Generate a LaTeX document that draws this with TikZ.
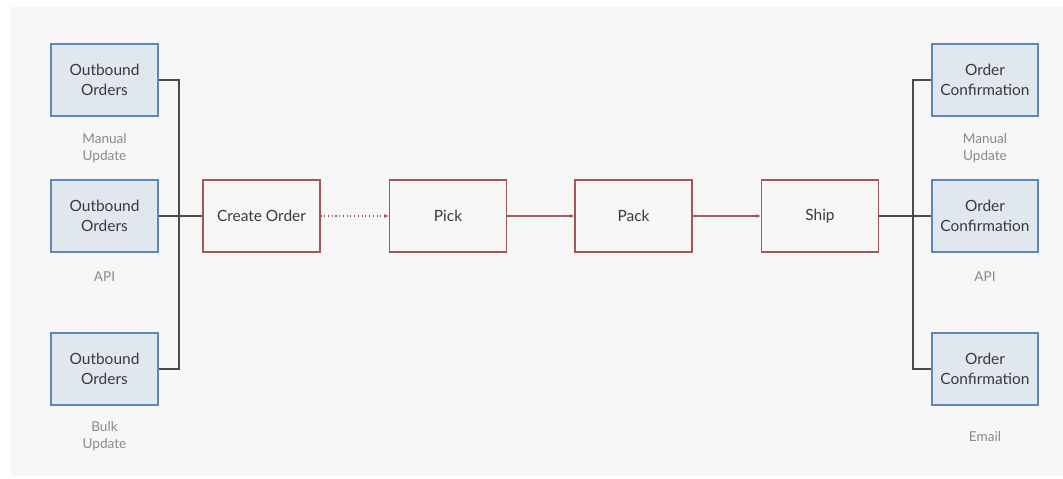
\documentclass[tikz,border=0pt]{standalone}
\usepackage{fontspec}
\setmainfont{Lato}
\usetikzlibrary{arrows.meta}
\definecolor{bg}{HTML}{F6F6F6}
\definecolor{srcfill}{HTML}{E1E7EF}
\definecolor{srcdraw}{HTML}{5F87B3}
\definecolor{procdraw}{HTML}{A0585B}
\definecolor{txt}{HTML}{3A3A3A}
\definecolor{lbl}{HTML}{8A8A8A}
\definecolor{conn}{HTML}{4A4A4A}
\tikzset{
  srcbox/.style={draw=srcdraw, fill=srcfill, line width=0.8pt, minimum width=80.25pt, minimum height=54pt, align=center, text=txt, font=\fontsize{11.6}{15.2}\selectfont, inner sep=1pt},
  procbox/.style={draw=procdraw, fill=bg, line width=0.8pt, minimum width=87.75pt, minimum height=54pt, align=center, text=txt, font=\fontsize{11.6}{15.2}\selectfont},
  lbltext/.style={text=lbl, align=center, font=\fontsize{10.2}{12.5}\selectfont},
  link/.style={draw=conn, line width=0.8pt},
  flow/.style={draw=procdraw, line width=0.8pt, -{Latex[length=3.5pt,width=3pt]}},
}
\begin{document}
\begin{tikzpicture}[x=0.75pt,y=-0.75pt]
\useasboundingbox (0,0) rectangle (1063,478);
\fill[white] (0,0) rectangle (1063,478);
\fill[bg] (11,7) rectangle (1063,476);
% left sources
\node[srcbox] (o1) at (104.5,80) {Outbound\\Orders};
\node[srcbox] (o2) at (104.5,216) {Outbound\\Orders};
\node[srcbox] (o3) at (104.5,369) {Outbound\\Orders};
\node[lbltext] (l1) at (104.5,148) {Manual\\Update};
\node[lbltext] (l2) at (104.5,277) {API};
\node[lbltext] (l3) at (104.5,436) {Bulk\\Update};
% process
\node[procbox] (co) at (261.5,216) {Create Order};
\node[procbox] (pi) at (448,216) {Pick};
\node[procbox] (pa) at (633.5,216) {Pack};
\node[procbox] (sh) at (820,216) {Ship};
% right outputs
\node[srcbox,minimum width=79.5pt] (c1) at (985,80) {Order\\Confirmation};
\node[srcbox,minimum width=79.5pt] (c2) at (985,216) {Order\\Confirmation};
\node[srcbox,minimum width=79.5pt] (c3) at (985,369) {Order\\Confirmation};
\node[lbltext] (r1) at (985,148) {Manual\\Update};
\node[lbltext] (r2) at (985,277) {API};
\node[lbltext] (r3) at (985,437) {Email};
% left connectors
\coordinate (lb) at (179,0);
\draw[link] (o1.east) -| (lb |- o3.east) -- (o3.east);
\draw[link] (o2.east) -- (co.west);
% flow
\draw[flow, dotted] (co.east) -- (pi.west);
\draw[flow] (pi.east) -- (pa.west);
\draw[flow] (pa.east) -- (sh.west);
% right connectors
\coordinate (rb) at (913,0);
\draw[link] (c1.west) -| (rb |- c3.west) -- (c3.west);
\draw[link] (sh.east) -- (c2.west);
\end{tikzpicture}
\end{document}
